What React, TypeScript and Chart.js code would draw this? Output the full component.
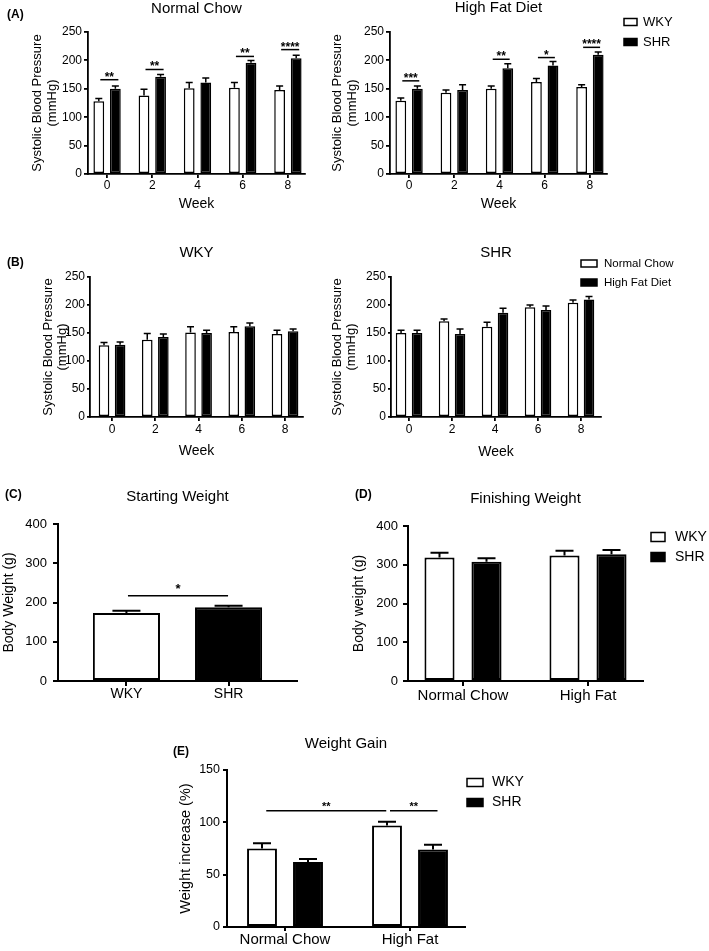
import React, { useEffect, useRef } from 'react';
import { Chart, registerables } from 'chart.js';

Chart.register(...registerables);

const FONT = "'Liberation Sans', Arial, Helvetica, sans-serif";
Chart.defaults.font.family = FONT;
Chart.defaults.color = '#000';

// ---------- data ----------
const weeks = [0, 2, 4, 6, 8];
const ncWky = [128, 138, 151, 152, 148];
const ncWkyErr = [5, 11, 10, 9, 7];
const ncShr = [150, 171, 161, 196, 204];
const ncShrErr = [5, 4, 8, 4, 5];
const hfWky = [129, 143, 150, 162, 153];
const hfWkyErr = [5, 5, 5, 6, 4];
const hfShr = [150, 148, 186, 191, 210];
const hfShrErr = [5, 9, 8, 7, 5];

const groupPos = [0, 1];
const strainLabels = ['WKY', 'SHR'];
const dietLegend = ['Normal Chow', 'High Fat Diet'];
const dietLabels = ['Normal Chow', 'High Fat'];

const startWeight = [173, 188];
const startWeightErr = [6, 4];

const finishWky = [319, 324];
const finishWkyErr = [12, 12];
const finishShr = [308, 327];
const finishShrErr = [9, 11];

const gainWky = [75, 97];
const gainWkyErr = [5, 3.5];
const gainShr = [62, 74];
const gainShrErr = [3, 4.5];

// significance annotations
const sigNcWeeks = [0, 2, 6, 8];
const sigNcLevel = [166, 184, 207, 219];
const sigNcText = ['**', '**', '**', '****'];
const sigHfWeeks = [0, 4, 6, 8];
const sigHfLevel = [164, 202, 205, 223];
const sigHfText = ['***', '**', '*', '****'];
const sigStartLevel = 217;
const sigStartText = '*';
const sigGainLevel = 111;
const sigGainText = ['**', '**'];

const WHITE = '#ffffff';
const BLACK = '#000000';

// ---------- plugin: error bars, significance, legend, panel label ----------
const annotPlugin: any = {
  id: 'annot',
  afterDatasetsDraw(chart: any, _args: any, o: any) {
    const ctx = chart.ctx;
    const xS = chart.scales.x;
    const yS = chart.scales.y;
    const ox = o.ox;
    const oy = o.oy;
    ctx.save();
    ctx.strokeStyle = '#000';
    ctx.fillStyle = '#000';
    ctx.lineCap = 'butt';
    chart.data.datasets.forEach((d: any, di: number) => {
      if (!d.errors) return;
      const meta = chart.getDatasetMeta(di);
      meta.data.forEach((el: any, j: number) => {
        const v = d.data[j].y;
        const top = yS.getPixelForValue(v + d.errors[j]);
        ctx.lineWidth = o.errW;
        ctx.beginPath();
        ctx.moveTo(el.x, el.y);
        ctx.lineTo(el.x, top);
        ctx.moveTo(el.x - o.capW / 2, top);
        ctx.lineTo(el.x + o.capW / 2, top);
        ctx.stroke();
      });
    });
    const sig = o.sig || [];
    for (let i = 0; i < sig.length; i++) {
      const s = sig[i];
      const p1 = xS.getPixelForValue(s.x1);
      const p2 = xS.getPixelForValue(s.x2);
      const py = yS.getPixelForValue(s.v);
      ctx.lineWidth = 1.5;
      ctx.beginPath();
      ctx.moveTo(p1, py);
      ctx.lineTo(p2, py);
      ctx.stroke();
      ctx.font = `bold ${o.sigSize}px ${FONT}`;
      ctx.textAlign = 'center';
      ctx.textBaseline = 'alphabetic';
      ctx.fillText(s.text, (p1 + p2) / 2, py + o.sigDy);
    }
    const lg = o.legend;
    if (lg) {
      for (let i = 0; i < lg.labels.length; i++) {
        const cy = lg.ys[i] - oy;
        ctx.fillStyle = lg.fills[i];
        ctx.fillRect(lg.x - ox, cy - lg.h / 2, lg.w, lg.h);
        ctx.lineWidth = 1.5;
        ctx.strokeStyle = '#000';
        ctx.strokeRect(lg.x - ox, cy - lg.h / 2, lg.w, lg.h);
        ctx.fillStyle = '#000';
        ctx.font = `${lg.size}px ${FONT}`;
        ctx.textAlign = 'left';
        ctx.textBaseline = 'middle';
        ctx.fillText(lg.labels[i], lg.textX - ox, cy);
      }
    }
    const lb = o.label;
    if (lb) {
      ctx.fillStyle = '#000';
      ctx.font = `bold 12px ${FONT}`;
      ctx.textAlign = 'left';
      ctx.textBaseline = 'middle';
      ctx.fillText(lb.text, lb.x - ox, lb.y - oy);
    }
    ctx.restore();
  },
};

function pts(xs: number[], ys: number[]) {
  return xs.map((x, i) => ({ x, y: ys[i] }));
}

function bars(label: string, xs: number[], ys: number[], errs: number[], fill: any, s: any) {
  return {
    label,
    data: pts(xs, ys),
    errors: errs,
    backgroundColor: fill,
    borderColor: '#000',
    borderWidth: s.barBorder,
    borderSkipped: false,
    categoryPercentage: s.catPct,
    barPercentage: s.barPct,
  };
}

function buildConfig(s: any) {
  const tLH = s.titleSize;
  const titlePadTop = s.titleY - s.box.y - tLH / 2;
  const titlePadBottom = s.area.t - s.titleY - tLH / 2;
  const yLH = s.yTitleSize * s.yTitleLH;
  const scaleLeft = s.yTitleX - yLH / 2;
  const yW = s.area.l - scaleLeft;
  const padLeft = scaleLeft - s.box.x;
  const xLH = 14 * 1.2;
  const xH = s.xTitle ? s.xTitleY + xLH / 2 - s.area.b : s.xH;
  const padBottom = s.box.y + s.box.h - s.area.b - xH;
  const padRight = s.box.x + s.box.w - s.area.r;
  const xLabelFn = s.xLabelFn;
  const xTicks: number[] = s.xTicks;
  return {
    type: 'bar',
    data: { datasets: s.datasets },
    plugins: [annotPlugin],
    options: {
      responsive: false,
      maintainAspectRatio: false,
      animation: false,
      devicePixelRatio: 1,
      layout: { padding: { left: padLeft, right: padRight, top: 0, bottom: padBottom } },
      plugins: {
        legend: { display: false },
        tooltip: { enabled: false },
        title: {
          display: true,
          text: s.title,
          fullSize: false,
          color: '#000',
          font: { size: s.titleSize, weight: 'normal', lineHeight: 1, family: FONT },
          padding: { top: titlePadTop, bottom: titlePadBottom },
        },
        annot: {
          ox: s.box.x,
          oy: s.box.y,
          errW: s.errW,
          capW: s.capW,
          sig: s.sig,
          sigSize: s.sigSize,
          sigDy: s.sigDy,
          legend: s.legend || false,
          label: s.label || false,
        },
      },
      scales: {
        x: {
          type: 'linear',
          min: s.xMin,
          max: s.xMax,
          bounds: 'data',
          offset: false,
          ticks: {
            autoSkip: false,
            maxRotation: 0,
            color: '#000',
            padding: s.xTickPad,
            font: { size: s.xTickSize, family: FONT },
            callback: (v: any) => xLabelFn(v),
          },
          afterBuildTicks: (sc: any) => {
            sc.ticks = xTicks.map((v) => ({ value: v }));
          },
          grid: {
            display: true,
            offset: false,
            drawOnChartArea: false,
            drawTicks: true,
            tickLength: s.xTickLen,
            color: '#000',
            lineWidth: s.axisW,
          },
          border: { display: true, color: '#000', width: s.axisW },
          title: s.xTitle
            ? { display: true, text: s.xTitle, color: '#000', padding: 0, font: { size: 14, lineHeight: 1.2, family: FONT } }
            : { display: false },
          afterFit: (sc: any) => {
            sc.height = xH;
          },
        },
        y: {
          type: 'linear',
          min: 0,
          max: s.yMax,
          bounds: 'data',
          ticks: {
            stepSize: s.yStep,
            color: '#000',
            padding: s.yTickPad,
            font: { size: s.yTickSize, family: FONT },
          },
          grid: {
            display: true,
            drawOnChartArea: false,
            drawTicks: true,
            tickLength: s.yTickLen,
            color: '#000',
            lineWidth: s.axisW,
          },
          border: { display: true, color: '#000', width: s.axisW },
          title: {
            display: true,
            text: s.yTitle,
            color: '#000',
            padding: 0,
            font: { size: s.yTitleSize, lineHeight: s.yTitleLH, family: FONT },
          },
          afterFit: (sc: any) => {
            sc.width = yW;
          },
        },
      },
    },
  };
}

// ---------- panel specs ----------
const weekLabel = (v: number) => String(v);
const strainLabel = (v: number) => (strainLabels[v] !== undefined ? strainLabels[v] : '');
const dietLabel = (v: number) => (dietLabels[v] !== undefined ? dietLabels[v] : '');

const bpTitle = ['Systolic Blood Pressure', '(mmHg)'];

const aCommon = {
  titleSize: 15,
  yTitle: bpTitle,
  yTitleSize: 13,
  yTitleLH: 15 / 13,
  xTitle: 'Week',
  xTitleY: 204,
  xMin: -0.844,
  xMax: 8.756,
  xTicks: weeks,
  xLabelFn: weekLabel,
  xTickSize: 12,
  xTickLen: 4,
  xTickPad: 0,
  yMax: 250,
  yStep: 50,
  yTickSize: 12,
  yTickLen: 4,
  yTickPad: 2,
  axisW: 1.8,
  barBorder: 1.5,
  catPct: 0.733,
  barPct: 0.65,
  errW: 1.5,
  capW: 7,
  sigSize: 12,
  sigDy: 1,
};

const specAL: any = {
  ...aCommon,
  box: { x: 0, y: 0, w: 325, h: 218 },
  area: { l: 88, t: 32, r: 305, b: 174 },
  title: 'Normal Chow',
  titleY: 8.5,
  yTitleX: 37,
  label: { text: '(A)', x: 7, y: 15 },
  sig: sigNcWeeks.map((w, i) => ({ x1: w - 0.3, x2: w + 0.5, v: sigNcLevel[i], text: sigNcText[i] })),
};
specAL.datasets = [
  bars('WKY', weeks, ncWky, ncWkyErr, WHITE, specAL),
  bars('SHR', weeks, ncShr, ncShrErr, BLACK, specAL),
];

const specAR: any = {
  ...aCommon,
  box: { x: 325, y: 0, w: 384, h: 218 },
  area: { l: 390, t: 32, r: 607, b: 174 },
  title: 'High Fat Diet',
  titleY: 8,
  yTitleX: 337,
  legend: { x: 624, w: 13, h: 7, ys: [22, 42], textX: 643, size: 13, labels: strainLabels, fills: [WHITE, BLACK] },
  sig: sigHfWeeks.map((w, i) => ({ x1: w - 0.3, x2: w + 0.45, v: sigHfLevel[i], text: sigHfText[i] })),
};
specAR.datasets = [
  bars('WKY', weeks, hfWky, hfWkyErr, WHITE, specAR),
  bars('SHR', weeks, hfShr, hfShrErr, BLACK, specAR),
];

const bCommon = {
  ...aCommon,
  yTitleLH: 1.1,
  xTickPad: 1,
  yTickLen: 3,
  yTickPad: 2,
  catPct: 0.744,
  barPct: 0.66,
  sig: [],
};

const specBL: any = {
  ...bCommon,
  box: { x: 0, y: 218, w: 325, h: 250 },
  area: { l: 90, t: 277, r: 303, b: 417 },
  title: 'WKY',
  titleY: 253,
  yTitleX: 48,
  xTitleY: 451,
  xMin: -1.02,
  xMax: 8.83,
  label: { text: '(B)', x: 7, y: 263 },
};
specBL.datasets = [
  bars('Normal Chow', weeks, ncWky, ncWkyErr, WHITE, specBL),
  bars('High Fat Diet', weeks, hfWky, hfWkyErr, BLACK, specBL),
];

const specBR: any = {
  ...bCommon,
  box: { x: 325, y: 218, w: 384, h: 250 },
  area: { l: 391, t: 277, r: 601, b: 417 },
  title: 'SHR',
  titleY: 253,
  yTitleX: 337,
  xTitleY: 452,
  xMin: -0.84,
  xMax: 8.93,
  legend: { x: 581, w: 16, h: 7, ys: [263.5, 282.5], textX: 604, size: 11.5, labels: dietLegend, fills: [WHITE, BLACK] },
};
specBR.datasets = [
  bars('Normal Chow', weeks, ncShr, ncShrErr, WHITE, specBR),
  bars('High Fat Diet', weeks, hfShr, hfShrErr, BLACK, specBR),
];

const specC: any = {
  box: { x: 0, y: 470, w: 340, h: 242 },
  area: { l: 58, t: 524, r: 297, b: 681 },
  title: 'Starting Weight',
  titleSize: 15,
  titleY: 497,
  yTitle: 'Body Weight (g)',
  yTitleSize: 14,
  yTitleLH: 1.2,
  yTitleX: 9,
  xH: 28,
  xMin: -0.67,
  xMax: 1.67,
  xTicks: groupPos,
  xLabelFn: strainLabel,
  xTickSize: 14,
  xTickLen: 5,
  xTickPad: 0,
  yMax: 400,
  yStep: 100,
  yTickSize: 13,
  yTickLen: 5,
  yTickPad: 6,
  axisW: 2,
  barBorder: 2,
  catPct: 1,
  barPct: 0.657,
  errW: 2,
  capW: 28,
  sigSize: 13,
  sigDy: -2.5,
  label: { text: '(C)', x: 5, y: 495 },
  sig: [{ x1: 0.015, x2: 0.995, v: sigStartLevel, text: sigStartText }],
};
specC.datasets = [bars('Body weight', groupPos, startWeight, startWeightErr, [WHITE, BLACK], specC)];

const specD: any = {
  box: { x: 340, y: 470, w: 369, h: 242 },
  area: { l: 408, t: 526, r: 643, b: 681 },
  title: 'Finishing Weight',
  titleSize: 15,
  titleY: 498.5,
  yTitle: 'Body weight (g)',
  yTitleSize: 14,
  yTitleLH: 1.2,
  yTitleX: 358.8,
  xH: 28,
  xMin: -0.44,
  xMax: 1.44,
  xTicks: groupPos,
  xLabelFn: dietLabel,
  xTickSize: 15,
  xTickLen: 5,
  xTickPad: 0.5,
  yMax: 400,
  yStep: 100,
  yTickSize: 13,
  yTickLen: 5,
  yTickPad: 5,
  axisW: 2,
  barBorder: 2,
  catPct: 0.752,
  barPct: 0.64,
  errW: 2,
  capW: 18,
  sigSize: 12,
  sigDy: 0,
  sig: [],
  label: { text: '(D)', x: 355, y: 495 },
  legend: { x: 651, w: 14, h: 9, ys: [537, 557], textX: 675, size: 14, labels: strainLabels, fills: [WHITE, BLACK] },
};
specD.datasets = [
  bars('WKY', groupPos, finishWky, finishWkyErr, WHITE, specD),
  bars('SHR', groupPos, finishShr, finishShrErr, BLACK, specD),
];

const specE: any = {
  box: { x: 150, y: 712, w: 450, h: 239 },
  area: { l: 227, t: 770, r: 465, b: 927 },
  title: 'Weight Gain',
  titleSize: 15,
  titleY: 743.5,
  yTitle: 'Weight increase (%)',
  yTitleSize: 14.5,
  yTitleLH: 1.2,
  yTitleX: 185.5,
  xH: 22,
  xMin: -0.464,
  xMax: 1.44,
  xTicks: groupPos,
  xLabelFn: dietLabel,
  xTickSize: 15,
  xTickLen: 4,
  xTickPad: 0,
  yMax: 150,
  yStep: 50,
  yTickSize: 12.5,
  yTickLen: 4,
  yTickPad: 3,
  axisW: 2,
  barBorder: 2,
  catPct: 0.736,
  barPct: 0.65,
  errW: 2,
  capW: 18,
  sigSize: 11,
  sigDy: -1.3,
  label: { text: '(E)', x: 173, y: 752 },
  legend: { x: 467, w: 16, h: 8, ys: [782.5, 802.5], textX: 492, size: 14, labels: strainLabels, fills: [WHITE, BLACK] },
  sig: [
    { x1: -0.15, x2: 0.81, v: sigGainLevel, text: sigGainText[0] },
    { x1: 0.84, x2: 1.22, v: sigGainLevel, text: sigGainText[1] },
  ],
};
specE.datasets = [
  bars('WKY', groupPos, gainWky, gainWkyErr, WHITE, specE),
  bars('SHR', groupPos, gainShr, gainShrErr, BLACK, specE),
];

const specs = [specAL, specAR, specBL, specBR, specC, specD, specE];

function Panel({ spec }: { spec: any }) {
  const ref = useRef<HTMLCanvasElement | null>(null);
  useEffect(() => {
    if (!ref.current) return;
    const chart = new Chart(ref.current, buildConfig(spec) as any);
    return () => chart.destroy();
  }, [spec]);
  return (
    <div style={{ position: 'absolute', left: spec.box.x, top: spec.box.y, width: spec.box.w, height: spec.box.h }}>
      <canvas ref={ref} width={spec.box.w} height={spec.box.h} style={{ width: spec.box.w, height: spec.box.h, display: 'block' }} />
    </div>
  );
}

export default function App() {
  return (
    <div style={{ position: 'absolute', left: 0, top: 0, width: 709, height: 951, background: '#fff', overflow: 'hidden' }}>
      {specs.map((s, i) => (
        <Panel key={i} spec={s} />
      ))}
    </div>
  );
}
